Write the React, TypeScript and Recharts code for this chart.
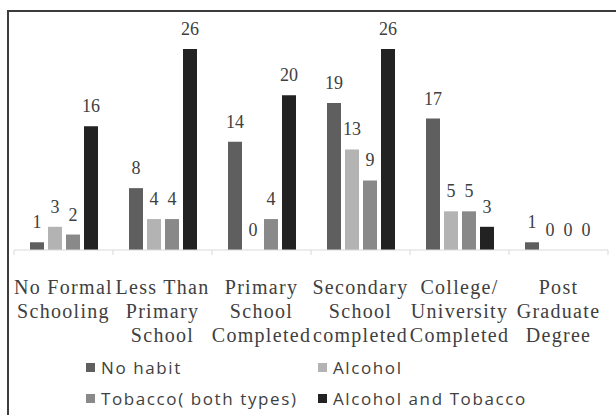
import React from 'react';
import { BarChart, Bar, XAxis, YAxis, LabelList, Legend } from 'recharts';

const categories = [
  'No Formal Schooling',
  'Less Than Primary School',
  'Primary School Completed',
  'Secondary School completed',
  'College/ University Completed',
  'Post Graduate Degree',
];
const categoryLines = [
  ['No Formal', 'Schooling'],
  ['Less Than', 'Primary', 'School'],
  ['Primary', 'School', 'Completed'],
  ['Secondary', 'School', 'completed'],
  ['College/', 'University', 'Completed'],
  ['Post', 'Graduate', 'Degree'],
];
const noHabit = [1, 8, 14, 19, 17, 1];
const alcohol = [3, 4, 0, 13, 5, 0];
const tobacco = [2, 4, 4, 9, 5, 0];
const alcoholAndTobacco = [16, 26, 20, 26, 3, 0];
const seriesNames = ['No habit', 'Alcohol', 'Tobacco( both types)', 'Alcohol and Tobacco'];
const seriesColors = ['#5f5f5f', '#b3b3b3', '#898989', '#222222'];

const data = categories.map((c, i) => ({
  category: c,
  noHabit: noHabit[i],
  alcohol: alcohol[i],
  tobacco: tobacco[i],
  alcoholAndTobacco: alcoholAndTobacco[i],
}));
const keys = ['noHabit', 'alcohol', 'tobacco', 'alcoholAndTobacco'];

const SERIF = '"Liberation Serif", "Times New Roman", serif';
const SANS = '"Open Sans", "Liberation Sans", sans-serif';
const TEXT = '#404040';

const XTick = (props: any) => {
  const { x, y, payload } = props;
  const index = props.index ?? payload?.index ?? 0;
  const half = typeof payload?.offset === 'number' && payload.offset > 0 ? payload.offset : 49.5;
  const lines = categoryLines[index] ?? [String(payload?.value)];
  return (
    <g>
      <line x1={x - half} x2={x - half} y1={y} y2={y + 5} stroke="#d9d9d9" />
      {index === categories.length - 1 && (
        <line x1={x + half} x2={x + half} y1={y} y2={y + 5} stroke="#d9d9d9" />
      )}
      <text textAnchor="middle" fontFamily={SERIF} fontSize={20} letterSpacing={1.3} fill={TEXT}>
        {lines.map((l, i) => (
          <tspan key={i} x={x} y={y + 44 + i * 24}>
            {l}
          </tspan>
        ))}
      </text>
    </g>
  );
};

const LegendContent = (props: any) => {
  const payload = [...(props.payload || [])].sort(
    (a: any, b: any) => seriesNames.indexOf(a.value) - seriesNames.indexOf(b.value)
  );
  return (
    <div
      style={{
        display: 'grid',
        gridTemplateColumns: '232px auto',
        paddingLeft: 86,
        rowGap: 0,
        fontFamily: SANS,
        fontSize: 17,
        letterSpacing: 1.6,
        color: TEXT,
        textAlign: 'left',
      }}
    >
      {payload.map((p: any, i: number) => (
        <div key={i} style={{ display: 'flex', alignItems: 'center', height: 31, whiteSpace: 'nowrap' }}>
          <span style={{ display: 'inline-block', width: 9, height: 9, background: p.color, marginRight: 6 }} />
          <span>{p.value}</span>
        </div>
      ))}
    </div>
  );
};

export default function App() {
  return (
    <div style={{ position: 'absolute', left: 0, top: 0, width: 616, height: 415, background: '#fff' }}>
      <div
        style={{
          position: 'absolute',
          left: 7,
          top: 10,
          width: 609,
          height: 405,
          boxSizing: 'border-box',
          borderLeft: '2px solid #3c3c3c',
          borderTop: '2px solid #3c3c3c',
        }}
      />
      <div style={{ position: 'absolute', left: 0, top: 0 }}>
        <BarChart
          width={616}
          height={415}
          data={data}
          margin={{ top: 18, right: 8, bottom: 0, left: 14 }}
          barCategoryGap={16}
          barGap={4}
        >
          <XAxis
            dataKey="category"
            interval={0}
            height={165}
            tickSize={0}
            tickMargin={0}
            tickLine={false}
            axisLine={{ stroke: '#d9d9d9' }}
            tick={<XTick />}
          />
          <YAxis hide domain={[0, 30]} />
          <Legend
            layout="horizontal"
            verticalAlign="middle"
            align="center"
            wrapperStyle={{ top: 352, left: 0, width: 616 }}
            content={<LegendContent />}
          />
          {keys.map((k, i) => (
            <Bar
              key={k}
              dataKey={k}
              name={seriesNames[i]}
              fill={seriesColors[i]}
              minPointSize={0.01}
              isAnimationActive={false}
            >
              <LabelList
                dataKey={k}
                position="top"
                offset={14}
                fill={TEXT}
                fontFamily={SERIF}
                fontSize={18}
              />
            </Bar>
          ))}
        </BarChart>
      </div>
    </div>
  );
}
